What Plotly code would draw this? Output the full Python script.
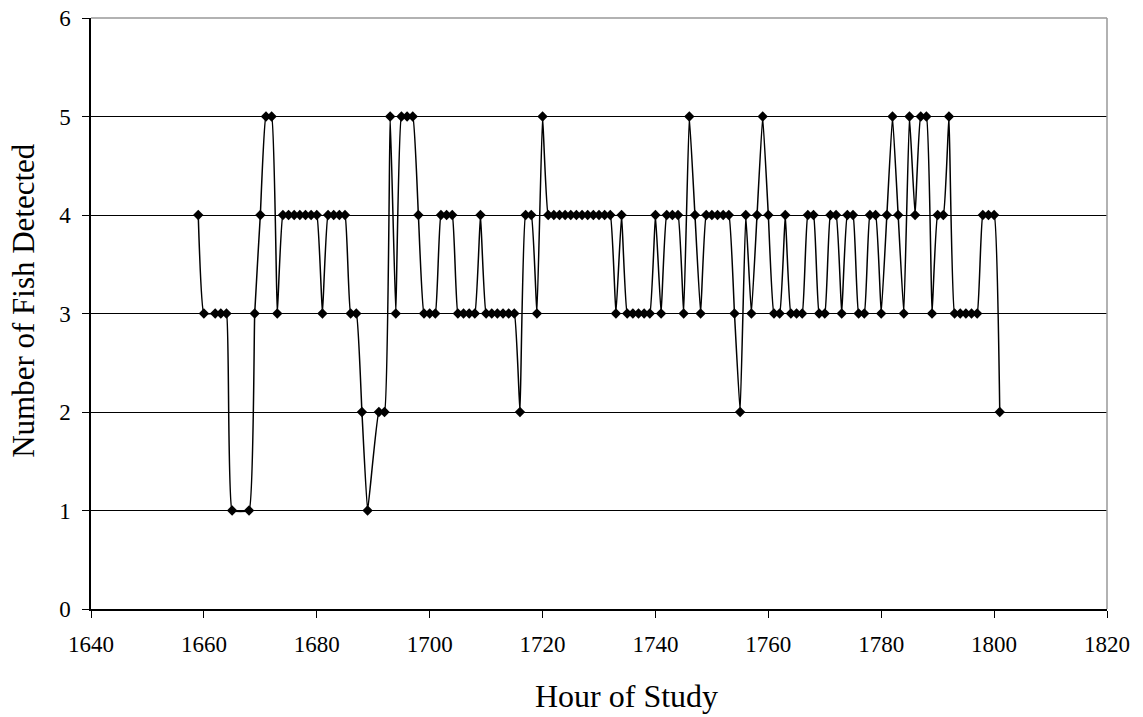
import plotly.graph_objects as go

# hour of study and number of fish detected
hours = [1659, 1660, 1662, 1663, 1664, 1665, 1668, 1669, 1670, 1671,
         1672, 1673, 1674, 1675, 1676, 1677, 1678, 1679, 1680, 1681,
         1682, 1683, 1684, 1685, 1686, 1687, 1688, 1689, 1691, 1692,
         1693, 1694, 1695, 1696, 1697, 1698, 1699, 1700, 1701, 1702,
         1703, 1704, 1705, 1706, 1707, 1708, 1709, 1710, 1711, 1712,
         1713, 1714, 1715, 1716, 1717, 1718, 1719, 1720, 1721, 1722,
         1723, 1724, 1725, 1726, 1727, 1728, 1729, 1730, 1731, 1732,
         1733, 1734, 1735, 1736, 1737, 1738, 1739, 1740, 1741, 1742,
         1743, 1744, 1745, 1746, 1747, 1748, 1749, 1750, 1751, 1752,
         1753, 1754, 1755, 1756, 1757, 1758, 1759, 1760, 1761, 1762,
         1763, 1764, 1765, 1766, 1767, 1768, 1769, 1770, 1771, 1772,
         1773, 1774, 1775, 1776, 1777, 1778, 1779, 1780, 1781, 1782,
         1783, 1784, 1785, 1786, 1787, 1788, 1789, 1790, 1791, 1792,
         1793, 1794, 1795, 1796, 1797, 1798, 1799, 1800, 1801]
fish = [4, 3, 3, 3, 3, 1, 1, 3, 4, 5,
        5, 3, 4, 4, 4, 4, 4, 4, 4, 3,
        4, 4, 4, 4, 3, 3, 2, 1, 2, 2,
        5, 3, 5, 5, 5, 4, 3, 3, 3, 4,
        4, 4, 3, 3, 3, 3, 4, 3, 3, 3,
        3, 3, 3, 2, 4, 4, 3, 5, 4, 4,
        4, 4, 4, 4, 4, 4, 4, 4, 4, 4,
        3, 4, 3, 3, 3, 3, 3, 4, 3, 4,
        4, 4, 3, 5, 4, 3, 4, 4, 4, 4,
        4, 3, 2, 4, 3, 4, 5, 4, 3, 3,
        4, 3, 3, 3, 4, 4, 3, 3, 4, 4,
        3, 4, 4, 3, 3, 4, 4, 3, 4, 5,
        4, 3, 5, 4, 5, 5, 3, 4, 4, 5,
        3, 3, 3, 3, 3, 4, 4, 4, 2]

x_ticks = [1640, 1660, 1680, 1700, 1720, 1740, 1760, 1780, 1800, 1820]
y_ticks = [0, 1, 2, 3, 4, 5, 6]

serif = "Liberation Serif"

fig = go.Figure()
fig.add_trace(go.Scatter(
    x=hours, y=fish, mode="lines+markers",
    line=dict(color="black", width=1.5, shape="spline", smoothing=0.3),
    marker=dict(symbol="diamond", size=8, color="black"),
    showlegend=False, cliponaxis=False,
))

fig.update_layout(
    width=1143, height=717,
    margin=dict(l=91, r=36, t=18, b=108, autoexpand=False),
    paper_bgcolor="white", plot_bgcolor="white",
    font=dict(family=serif, color="black", size=23),
)
fig.update_xaxes(
    range=[1640, 1820], tickvals=x_ticks, showgrid=False, zeroline=False,
    showline=True, linecolor="black", linewidth=1.5, automargin=False,
    ticks="outside", ticklen=7, tickcolor="black", ticklabelstandoff=7,
    ticklabeloverflow="allow",
    tickfont=dict(family=serif, size=23, color="black"),
)
fig.update_yaxes(
    range=[0, 6], tickvals=y_ticks, showgrid=True, gridcolor="black", gridwidth=1,
    zeroline=False, showline=True, linecolor="black", linewidth=1.5,
    automargin=False, ticks="outside", ticklen=7, tickcolor="black",
    ticklabelstandoff=7, ticklabeloverflow="allow",
    tickfont=dict(family=serif, size=23, color="black"),
)

# axis titles
fig.add_annotation(text="Hour of Study", xref="paper", yref="paper",
                   x=0.435, y=-0.147, xanchor="left", yanchor="middle",
                   showarrow=False, font=dict(family=serif, size=32, color="black"))
fig.add_annotation(text="Number of Fish Detected", xref="paper", yref="paper",
                   x=-0.066, y=0.523, xanchor="center", yanchor="middle",
                   textangle=-90, showarrow=False,
                   font=dict(family=serif, size=31, color="black"))

# grey plot-area border on top and right, as in the original
fig.add_shape(type="line", xref="paper", yref="paper", x0=0, x1=1, y0=1, y1=1,
              line=dict(color="#999999", width=1.5), layer="above")
fig.add_shape(type="line", xref="paper", yref="paper", x0=1, x1=1, y0=0, y1=1,
              line=dict(color="#999999", width=1.5), layer="above")

# drop the page's default body margin so the figure fills the window
fig.write_html("out.html", config={"displayModeBar": False},
               post_script="document.body.style.margin = '0';")
